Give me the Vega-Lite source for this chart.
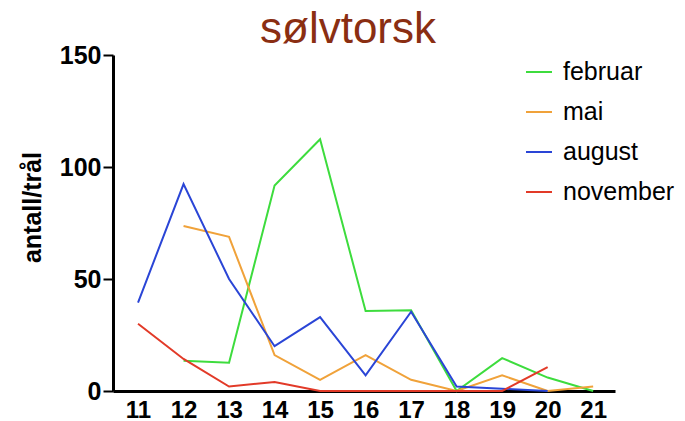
{
  "$schema": "https://vega.github.io/schema/vega-lite/v6.json",
  "width": 502,
  "height": 336,
  "autosize": {"type": "none"},
  "padding": {"left": 113, "top": 55, "right": 70, "bottom": 30},
  "background": "white",
  "title": {
    "text": "sølvtorsk",
    "font": "Liberation Sans",
    "fontSize": 44,
    "fontWeight": "normal",
    "color": "#8a2e12",
    "anchor": "middle",
    "dx": -16,
    "offset": -9
  },
  "config": {
    "view": {"stroke": null},
    "font": "Liberation Sans"
  },
  "data": {
    "values": [
      {"lengde": 12, "antall": 13.5, "maaned": "februar"},
      {"lengde": 13, "antall": 12.6, "maaned": "februar"},
      {"lengde": 14, "antall": 91.7, "maaned": "februar"},
      {"lengde": 15, "antall": 112.4, "maaned": "februar"},
      {"lengde": 16, "antall": 35.7, "maaned": "februar"},
      {"lengde": 17, "antall": 36, "maaned": "februar"},
      {"lengde": 18, "antall": 0, "maaned": "februar"},
      {"lengde": 19, "antall": 14.7, "maaned": "februar"},
      {"lengde": 20, "antall": 6, "maaned": "februar"},
      {"lengde": 21, "antall": 0, "maaned": "februar"},

      {"lengde": 12, "antall": 73.7, "maaned": "mai"},
      {"lengde": 13, "antall": 68.8, "maaned": "mai"},
      {"lengde": 14, "antall": 16, "maaned": "mai"},
      {"lengde": 15, "antall": 5, "maaned": "mai"},
      {"lengde": 16, "antall": 16, "maaned": "mai"},
      {"lengde": 17, "antall": 5, "maaned": "mai"},
      {"lengde": 18, "antall": 0, "maaned": "mai"},
      {"lengde": 19, "antall": 7, "maaned": "mai"},
      {"lengde": 20, "antall": 0, "maaned": "mai"},
      {"lengde": 21, "antall": 2, "maaned": "mai"},

      {"lengde": 11, "antall": 39.5, "maaned": "august"},
      {"lengde": 12, "antall": 92.4, "maaned": "august"},
      {"lengde": 13, "antall": 50, "maaned": "august"},
      {"lengde": 14, "antall": 20, "maaned": "august"},
      {"lengde": 15, "antall": 33, "maaned": "august"},
      {"lengde": 16, "antall": 7, "maaned": "august"},
      {"lengde": 17, "antall": 35.4, "maaned": "august"},
      {"lengde": 18, "antall": 2, "maaned": "august"},
      {"lengde": 19, "antall": 1, "maaned": "august"},
      {"lengde": 20, "antall": 0, "maaned": "august"},

      {"lengde": 11, "antall": 30, "maaned": "november"},
      {"lengde": 12, "antall": 14.3, "maaned": "november"},
      {"lengde": 13, "antall": 2, "maaned": "november"},
      {"lengde": 14, "antall": 4, "maaned": "november"},
      {"lengde": 15, "antall": 0, "maaned": "november"},
      {"lengde": 16, "antall": 0, "maaned": "november"},
      {"lengde": 17, "antall": 0, "maaned": "november"},
      {"lengde": 18, "antall": 0, "maaned": "november"},
      {"lengde": 19, "antall": 0, "maaned": "november"},
      {"lengde": 20, "antall": 10.7, "maaned": "november"}
    ]
  },
  "mark": {"type": "line", "strokeWidth": 2},
  "encoding": {
    "x": {
      "field": "lengde",
      "type": "quantitative",
      "scale": {"domain": [10.45, 21.48], "nice": false, "zero": false},
      "axis": {
        "values": [11, 12, 13, 14, 15, 16, 17, 18, 19, 20, 21],
        "title": null,
        "grid": false,
        "ticks": false,
        "domainColor": "black",
        "domainWidth": 3,
        "labelFont": "Liberation Sans",
        "labelFontSize": 24,
        "labelFontWeight": "bold",
        "labelColor": "black",
        "labelPadding": 7
      }
    },
    "y": {
      "field": "antall",
      "type": "quantitative",
      "scale": {"domain": [0, 150], "nice": false},
      "axis": {
        "values": [0, 50, 100, 150],
        "title": "antall/trål",
        "titleFont": "Liberation Sans",
        "titleFontSize": 25,
        "titleFontWeight": "bold",
        "titleColor": "black",
        "titlePadding": 14,
        "titleY": 152,
        "grid": false,
        "domainColor": "black",
        "domainWidth": 3,
        "tickColor": "black",
        "tickWidth": 2,
        "tickSize": 10,
        "labelFont": "Liberation Sans",
        "labelFontSize": 25,
        "labelFontWeight": "bold",
        "labelColor": "black",
        "labelPadding": 2
      }
    },
    "color": {
      "field": "maaned",
      "type": "nominal",
      "scale": {
        "domain": ["februar", "mai", "august", "november"],
        "range": ["#3ddc3d", "#f0a23a", "#2a45d6", "#e23a28"]
      },
      "legend": {
        "title": null,
        "orient": "none",
        "legendX": 412,
        "legendY": 3,
        "symbolType": "stroke",
        "symbolSize": 676,
        "symbolStrokeWidth": 2,
        "labelFont": "Liberation Sans",
        "labelFontSize": 25,
        "labelColor": "black",
        "labelOffset": 10,
        "rowPadding": 13
      }
    }
  }
}
